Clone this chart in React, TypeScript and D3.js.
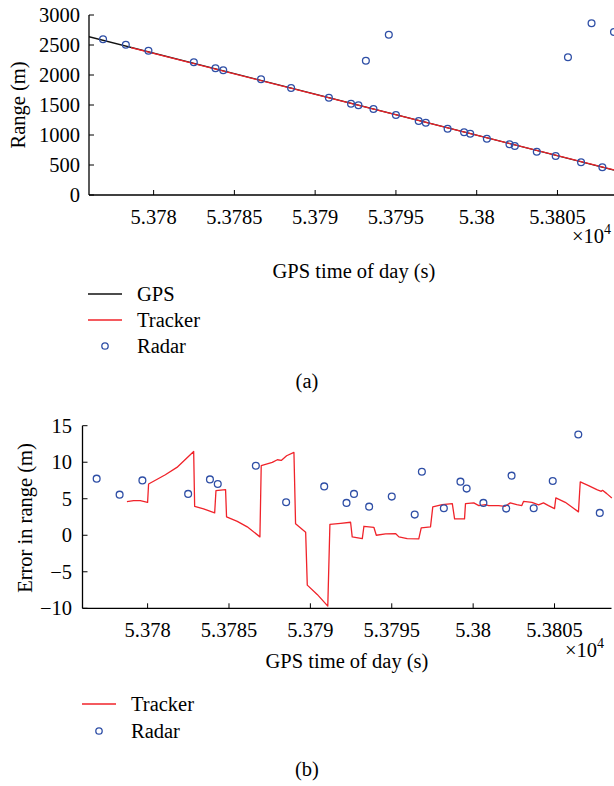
import React from "react";
import * as d3 from "d3";

// ---------- data ----------
const xTicks = [53780, 53785, 53790, 53795, 53800, 53805];
const xTickLabels = ["5.378", "5.3785", "5.379", "5.3795", "5.38", "5.3805"];
const rangeTicks = [0, 500, 1000, 1500, 2000, 2500, 3000];
const errTicks = [-10, -5, 0, 5, 10, 15];
const errTickLabels = ["\u221210", "\u22125", "0", "5", "10", "15"];

const gpsTime = [53776, 53792, 53808.5];
const gpsRange = [2638, 1545, 415];

const trackerRangeTime = [53778.6, 53793.5, 53808.5];
const trackerRange = [2455, 1440, 417];

const radarTime = [
  53776.87, 53778.28, 53779.68, 53782.49, 53783.83, 53784.31, 53786.65, 53788.51,
  53790.85, 53792.22, 53792.68, 53793.14, 53793.61, 53794.56, 53795.0, 53796.41,
  53796.85, 53798.2, 53799.22, 53799.6, 53800.63, 53802.03, 53802.36, 53803.72,
  53804.89, 53805.65, 53806.46, 53807.11, 53807.78, 53808.5,
];
const radarRange = [
  2595, 2505, 2405, 2212, 2112, 2078, 1928, 1783, 1622, 1522, 1495, 2238, 1433, 2672,
  1333, 1233, 1205, 1105, 1045, 1022, 938, 845, 817, 722, 650, 2295, 545, 2862, 462, 2717,
];
const radarError: (number | null)[] = [
  7.75, 5.56, 7.51, 5.66, 7.65, 7.02, 9.52, 4.51, 6.69, 4.43, 5.66, null, 3.92, null,
  5.29, 2.83, 8.7, 3.69, 7.34, 6.39, 4.43, 3.65, 8.16, 3.69, 7.43, null, 13.8, null, 3.06, null,
];

const trackerErrTime = [
  53778.73, 53779.14, 53779.55, 53780.0, 53780.06, 53781.09, 53781.8, 53782.83, 53782.89,
  53783.44, 53784.12, 53784.2, 53784.79, 53784.85, 53785.51, 53786.12, 53786.9, 53786.98,
  53787.66, 53787.97, 53788.21, 53788.54, 53788.99, 53789.09, 53789.71, 53789.81, 53790.42,
  53791.07, 53791.2, 53791.86, 53792.47, 53792.57, 53793.19, 53793.29, 53793.9, 53794.05,
  53794.62, 53795.23, 53795.44, 53795.95, 53796.66, 53796.81, 53797.38, 53797.52, 53798.1,
  53798.72, 53798.86, 53799.47, 53799.53, 53800.04, 53800.35, 53800.76, 53800.95, 53801.56,
  53801.97, 53802.28, 53802.68, 53802.99, 53803.1, 53803.61, 53804.02, 53804.32, 53804.63,
  53805.0, 53805.08, 53805.66, 53806.06, 53806.47, 53806.58, 53807.09, 53807.6, 53807.87,
  53807.95, 53808.21, 53808.52,
];
const trackerErr = [
  4.6, 4.74, 4.74, 4.51, 7.02, 8.29, 9.29, 11.48, 3.96,
  3.61, 3.06, 6.11, 6.24, 2.51, 1.91, 1.15, -0.22, 9.52,
  9.97, 10.34, 10.25, 10.89, 11.34, 1.56, 0.41, -6.83, -8.1,
  -9.7, 1.5, 1.64, 1.78, -0.22, -0.45, 1.23, 1.09, 0.0,
  0.19, 0.23, -0.22, -0.45, -0.49, 1.01, 1.15, 3.88, 4.19,
  4.33, 2.24, 2.24, 4.33, 4.43, 4.06, 4.19, 4.06, 4.06,
  3.96, 4.43, 4.19, 4.06, 4.64, 4.51, 4.15, 4.43, 4.06,
  3.65, 5.11, 4.51, 3.88, 3.2, 7.3, 6.79, 6.24, 6.01,
  6.15, 5.7, 5.11,
];

// ---------- styles ----------
const FONT = "Liberation Serif, Times New Roman, serif";
const FS = 20.5;
const RED = "#f0232a";
const BLUE = "#2f4fa6";
const xDomain: [number, number] = [53776, 53808.5];

export default function App() {
  const xT = d3.scaleLinear().domain(xDomain).range([89, 614]);
  const yT = d3.scaleLinear().domain([0, 3000]).range([195, 15]);
  const xB = d3.scaleLinear().domain(xDomain).range([82.5, 611.5]);
  const yB = d3.scaleLinear().domain([-10, 15]).range([608.3, 425.7]);

  const lineT = d3
    .line<[number, number]>()
    .x((d) => xT(d[0]))
    .y((d) => yT(d[1]));
  const lineB = d3
    .line<[number, number]>()
    .x((d) => xB(d[0]))
    .y((d) => yB(d[1]));

  const gpsPath = lineT(gpsTime.map((t, i) => [t, gpsRange[i]]))!;
  const trkPath = lineT(trackerRangeTime.map((t, i) => [t, trackerRange[i]]))!;
  const errPath = lineB(trackerErrTime.map((t, i) => [t, trackerErr[i]]))!;

  const tickLen = 5;
  const ts = { fontFamily: FONT, fontSize: FS } as React.CSSProperties;

  return (
    <svg
      width={614}
      height={786}
      style={{ position: "absolute", left: 0, top: 0, background: "#fff", fontFamily: FONT }}
    >
      <rect x={0} y={0} width={614} height={786} fill="#fff" />
      <defs>
        <clipPath id="clipT">
          <rect x={89} y={0} width={530} height={196} />
        </clipPath>
        <clipPath id="clipB">
          <rect x={82.5} y={420} width={532} height={189} />
        </clipPath>
      </defs>

      {/* ===== TOP CHART ===== */}
      <g clipPath="url(#clipT)">
        <path d={gpsPath} fill="none" stroke="#111" strokeWidth={1.3} />
        <path d={trkPath} fill="none" stroke={RED} strokeWidth={1.3} />
        {radarTime.map((t, i) => (
          <circle
            key={i}
            cx={xT(t)}
            cy={yT(radarRange[i])}
            r={3.4}
            fill="none"
            stroke={BLUE}
            strokeWidth={1.3}
          />
        ))}
      </g>
      <line x1={89} y1={yT(3000)} x2={89} y2={yT(0)} stroke="#000" strokeWidth={1.3} />
      <line x1={89} y1={yT(0)} x2={614} y2={yT(0)} stroke="#000" strokeWidth={1.3} />
      {rangeTicks.map((v) => (
        <g key={v}>
          <line x1={89} x2={89 + tickLen} y1={yT(v)} y2={yT(v)} stroke="#000" strokeWidth={1} />
          <text x={80} y={yT(v)} textAnchor="end" dominantBaseline="central" style={ts}>
            {v}
          </text>
        </g>
      ))}
      {xTicks.map((v, i) => (
        <g key={v}>
          <line x1={xT(v)} x2={xT(v)} y1={yT(0)} y2={yT(0) - tickLen} stroke="#000" strokeWidth={1} />
          <text x={xT(v)} y={224} textAnchor="middle" style={ts}>
            {xTickLabels[i]}
          </text>
        </g>
      ))}
      <text x={572} y={243} style={ts}>
        ×10<tspan style={{ fontSize: 14 }} dy={-9}>4</tspan>
      </text>
      <text x={354} y={278} textAnchor="middle" style={ts}>
        GPS time of day (s)
      </text>
      <text
        transform="translate(18,105) rotate(-90)"
        textAnchor="middle"
        dominantBaseline="central"
        style={ts}
      >
        Range (m)
      </text>
      <line x1={88} x2={122} y1={294} y2={294} stroke="#111" strokeWidth={1.3} />
      <text x={137} y={294} dominantBaseline="central" style={ts}>GPS</text>
      <line x1={88} x2={122} y1={320} y2={320} stroke={RED} strokeWidth={1.3} />
      <text x={137} y={320} dominantBaseline="central" style={ts}>Tracker</text>
      <circle cx={105} cy={346} r={3.2} fill="none" stroke={BLUE} strokeWidth={1.3} />
      <text x={137} y={346} dominantBaseline="central" style={ts}>Radar</text>
      <text x={307} y={381} textAnchor="middle" dominantBaseline="central" style={ts}>(a)</text>

      {/* ===== BOTTOM CHART ===== */}
      <g clipPath="url(#clipB)">
        <path d={errPath} fill="none" stroke={RED} strokeWidth={1.3} strokeLinejoin="round" />
        {radarTime.map((t, i) =>
          radarError[i] == null ? null : (
            <circle
              key={i}
              cx={xB(t)}
              cy={yB(radarError[i] as number)}
              r={3.4}
              fill="none"
              stroke={BLUE}
              strokeWidth={1.3}
            />
          )
        )}
      </g>
      <line x1={82.5} y1={yB(15)} x2={82.5} y2={yB(-10)} stroke="#000" strokeWidth={1.3} />
      <line x1={82.5} y1={yB(-10)} x2={611.5} y2={yB(-10)} stroke="#000" strokeWidth={1.3} />
      {errTicks.map((v, i) => (
        <g key={v}>
          <line x1={82.5} x2={82.5 + tickLen} y1={yB(v)} y2={yB(v)} stroke="#000" strokeWidth={1} />
          <text x={72} y={yB(v)} textAnchor="end" dominantBaseline="central" style={ts}>
            {errTickLabels[i]}
          </text>
        </g>
      ))}
      {xTicks.map((v, i) => (
        <g key={v}>
          <line x1={xB(v)} x2={xB(v)} y1={yB(-10)} y2={yB(-10) - tickLen} stroke="#000" strokeWidth={1} />
          <text x={xB(v)} y={636.5} textAnchor="middle" style={ts}>
            {xTickLabels[i]}
          </text>
        </g>
      ))}
      <text x={565} y={657} style={ts}>
        ×10<tspan style={{ fontSize: 14 }} dy={-9}>4</tspan>
      </text>
      <text x={347} y={668} textAnchor="middle" style={ts}>
        GPS time of day (s)
      </text>
      <text
        transform="translate(25,518) rotate(-90)"
        textAnchor="middle"
        dominantBaseline="central"
        style={ts}
      >
        Error in range (m)
      </text>
      <line x1={82} x2={116} y1={704} y2={704} stroke={RED} strokeWidth={1.3} />
      <text x={131} y={704} dominantBaseline="central" style={ts}>Tracker</text>
      <circle cx={99} cy={731} r={3.2} fill="none" stroke={BLUE} strokeWidth={1.3} />
      <text x={131} y={731} dominantBaseline="central" style={ts}>Radar</text>
      <text x={307} y={769} textAnchor="middle" dominantBaseline="central" style={ts}>(b)</text>
    </svg>
  );
}
